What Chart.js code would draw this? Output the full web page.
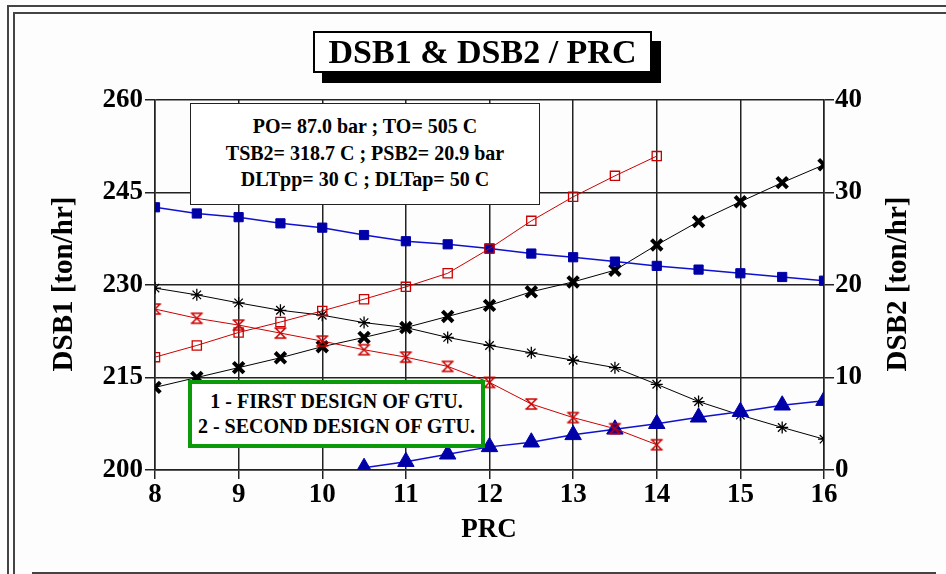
<!DOCTYPE html>
<html>
<head>
<meta charset="utf-8">
<script src="https://cdn.jsdelivr.net/npm/chart.js@4/dist/chart.umd.min.js"></script>
<style>
  html, body { margin: 0; padding: 0; background: #fdfdfd; }
  body { width: 946px; height: 574px; position: relative; overflow: hidden;
         font-family: "Liberation Serif", "Times New Roman", serif; }
  #chart { position: absolute; left: 0; top: 0; }
  .line { position: absolute; background: #444; }
  .title-box {
    position: absolute; left: 313px; top: 31px; width: 335px; height: 38px;
    border: 2px solid #000; background: #fff; box-shadow: 9px 10px 0 #000;
    font-weight: bold; font-size: 34px; line-height: 38px; text-align: center;
  }
  .info-box {
    position: absolute; left: 190px; top: 103px; width: 348px; height: 91px;
    border: 1.5px solid #222; background: #fff; padding-top: 9px;
    font-weight: bold; font-size: 20px; line-height: 26.5px; text-align: center;
  }
  .design-box {
    position: absolute; left: 188px; top: 380px; width: 289px; height: 55px;
    border: 4px solid #0a9a0a; background: #fff; padding-top: 5px;
    font-weight: bold; font-size: 20px; line-height: 24.5px; text-align: center;
  }
</style>
</head>
<body>
<!-- frame -->
<div class="line" style="left:7px;top:5px;width:940px;height:2px"></div>
<div class="line" style="left:7px;top:5px;width:2px;height:570px"></div>
<div class="line" style="left:13px;top:12px;width:934px;height:2px"></div>
<div class="line" style="left:13px;top:12px;width:2px;height:563px"></div>
<div class="line" style="left:32px;top:572px;width:904px;height:2px"></div>

<canvas id="chart" width="946" height="574"></canvas>

<div class="title-box">DSB1 &amp; DSB2 / PRC</div>
<div class="info-box">
  PO= 87.0 bar ; TO= 505 C<br>
  TSB2= 318.7 C ; PSB2= 20.9 bar<br>
  DLTpp= 30 C ; DLTap= 50 C
</div>
<div class="design-box">
  1 - FIRST DESIGN OF GTU.<br>
  2 - SECOND DESIGN OF GTU.
</div>

<script>
// --- Data ---
const PRC_FULL  = [8, 8.5, 9, 9.5, 10, 10.5, 11, 11.5, 12, 12.5, 13, 13.5, 14, 14.5, 15, 15.5, 16];
const PRC_TO14  = [8, 8.5, 9, 9.5, 10, 10.5, 11, 11.5, 12, 12.5, 13, 13.5, 14];
const PRC_FROM105 = [10.5, 11, 11.5, 12, 12.5, 13, 13.5, 14, 14.5, 15, 15.5, 16];

const dsb1Blue   = [242.6, 241.6, 241.0, 240.0, 239.3, 238.1, 237.1, 236.6, 235.9, 235.1, 234.5, 233.8, 233.1, 232.5, 231.9, 231.3, 230.7];
const dsb2Blue   = [0.25, 0.9, 1.7, 2.5, 3.0, 3.8, 4.4, 5.0, 5.7, 6.3, 7.0, 7.5];
const redSquares = [218.3, 220.2, 222.3, 224.0, 225.8, 227.7, 229.7, 231.9, 235.9, 240.4, 244.3, 247.7, 250.9];
const redBowtie  = [226.1, 224.6, 223.5, 222.2, 220.9, 219.5, 218.3, 216.8, 214.2, 210.7, 208.5, 206.7, 204.1];
const blackCross = [213.4, 215.0, 216.6, 218.2, 220.0, 221.5, 223.1, 224.9, 226.7, 228.9, 230.5, 232.4, 236.5, 240.3, 243.5, 246.6, 249.5];
const blackStar  = [229.5, 228.4, 227.1, 225.9, 225.1, 223.9, 223.1, 221.5, 220.2, 219.0, 217.8, 216.6, 213.9, 211.1, 208.9, 206.9, 205.0];

const Y1_TICKS = [200, 215, 230, 245, 260];
const Y2_TICKS = [0, 10, 20, 30, 40];

const FONT = '"Liberation Serif", "Times New Roman", serif';
const BLUE = '#0000a8';
const RED  = '#cc0000';

function pts(xs, ys) {
  return xs.map((x, i) => ({ x, y: ys[i] }));
}

// hourglass marker used by the red declining series
function bowtie() {
  const c = document.createElement('canvas');
  c.width = 15; c.height = 14;
  const g = c.getContext('2d');
  g.strokeStyle = RED;
  g.lineWidth = 1.6;
  g.beginPath();
  g.moveTo(1.5, 2); g.lineTo(13.5, 2);
  g.moveTo(1.5, 12); g.lineTo(13.5, 12);
  g.moveTo(2.5, 2); g.lineTo(12.5, 12);
  g.moveTo(12.5, 2); g.lineTo(2.5, 12);
  g.stroke();
  return c;
}

const axisTitles = {
  id: 'axisTitles',
  afterDraw(chart) {
    const ctx = chart.ctx;
    ctx.save();
    ctx.fillStyle = '#000';
    ctx.textAlign = 'center';
    ctx.textBaseline = 'middle';
    ctx.font = `bold 29px ${FONT}`;
    [[65, 'DSB1 [ton/hr]'], [899, 'DSB2 [ton/hr]']].forEach(([x, t]) => {
      ctx.save();
      ctx.translate(x, 284);
      ctx.rotate(-Math.PI / 2);
      ctx.fillText(t, 0, 0);
      ctx.restore();
    });
    ctx.font = `bold 27px ${FONT}`;
    ctx.fillText('PRC', 489, 530);
    ctx.restore();
  }
};

const tickFont = { family: FONT, size: 27, weight: 'bold' };

new Chart(document.getElementById('chart'), {
  type: 'line',
  data: {
    datasets: [
      {
        data: pts(PRC_TO14, redSquares), yAxisID: 'y',
        borderColor: RED, borderWidth: 1, pointStyle: 'rect', pointRadius: 6.5,
        pointBorderColor: RED, pointBackgroundColor: 'rgba(0,0,0,0)', pointBorderWidth: 1.3
      },
      {
        data: pts(PRC_TO14, redBowtie), yAxisID: 'y',
        borderColor: RED, borderWidth: 1, pointStyle: bowtie(), pointRadius: 7
      },
      {
        data: pts(PRC_FULL, dsb1Blue), yAxisID: 'y',
        borderColor: '#1010d0', borderWidth: 1.5, pointStyle: 'rect', pointRadius: 6.5,
        pointBorderColor: BLUE, pointBackgroundColor: BLUE, pointBorderWidth: 1
      },
      {
        data: pts(PRC_FROM105, dsb2Blue), yAxisID: 'y1',
        borderColor: '#1010d0', borderWidth: 1.5, pointStyle: 'triangle', pointRadius: 9.5,
        pointBorderColor: BLUE, pointBackgroundColor: BLUE, pointBorderWidth: 1
      },
      {
        data: pts(PRC_FULL, blackCross), yAxisID: 'y',
        borderColor: '#000', borderWidth: 1, pointStyle: 'crossRot', pointRadius: 7.5,
        pointBorderColor: '#000', pointBorderWidth: 4
      },
      {
        data: pts(PRC_FULL, blackStar), yAxisID: 'y',
        borderColor: '#000', borderWidth: 1, pointStyle: 'star', pointRadius: 6,
        pointBorderColor: '#000', pointBorderWidth: 1.3
      }
    ]
  },
  options: {
    responsive: false,
    animation: false,
    events: [],
    layout: { padding: { top: 100, left: 0, right: 0, bottom: 0 } },
    plugins: { legend: { display: false }, tooltip: { enabled: false }, title: { display: false } },
    scales: {
      x: {
        type: 'linear', min: 8, max: 16,
        afterFit: s => { s.height = 104; },
        ticks: { stepSize: 1, color: '#000', font: tickFont, padding: 0, maxRotation: 0 },
        grid: { color: '#222', lineWidth: 1.5, tickLength: 9 },
        border: { color: '#222', width: 1.5 }
      },
      y: {
        position: 'left', min: 200, max: 260,
        afterFit: s => { s.width = 155; },
        afterBuildTicks: s => { s.ticks = Y1_TICKS.map(v => ({ value: v })); },
        ticks: { color: '#000', font: tickFont, padding: 2 },
        grid: { color: '#222', lineWidth: 1.5, tickLength: 10 },
        border: { color: '#222', width: 1.5 }
      },
      y1: {
        position: 'right', min: 0, max: 40,
        afterFit: s => { s.width = 122; },
        afterBuildTicks: s => { s.ticks = Y2_TICKS.map(v => ({ value: v })); },
        ticks: { color: '#000', font: tickFont, padding: 1 },
        grid: { drawOnChartArea: false, color: '#222', lineWidth: 1.5, tickLength: 10 },
        border: { color: '#222', width: 1.5 }
      }
    }
  },
  plugins: [axisTitles]
});
</script>
</body>
</html>
